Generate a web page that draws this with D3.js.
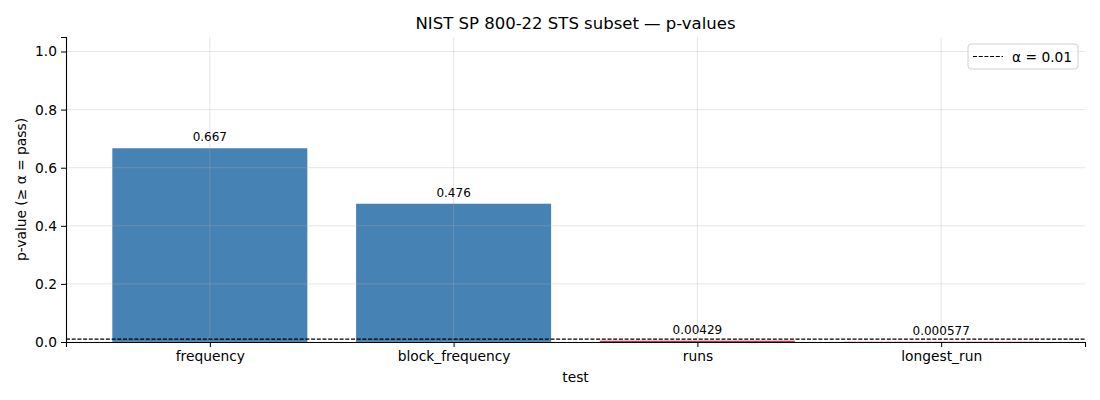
<!DOCTYPE html>
<html>
<head>
<meta charset="utf-8">
<script src="https://cdn.jsdelivr.net/npm/d3@7"></script>
<style>
body { margin: 0; background: #fff; }
text { font-family: "DejaVu Sans", sans-serif; }
</style>
</head>
<body>
<div id="chart"></div>
<script>
var tests = ["frequency", "block_frequency", "runs", "longest_run"];
var pvalues = [0.667, 0.476, 0.00429, 0.000577];
var labels = ["0.667", "0.476", "0.00429", "0.000577"];
var yTicks = [0, 0.2, 0.4, 0.6, 0.8, 1.0];
var alpha = 0.01;

var svgwidth = 1100;
var svgheight = 400;
var margin = {top: 37, bottom: 58, right: 15, left: 66};
var width = svgwidth - margin.left - margin.right;
var height = svgheight - margin.top - margin.bottom;

var svg = d3.select("#chart").append("svg").attr("width", svgwidth).attr("height", svgheight);
var chartGroup = svg.append("g").attr("transform", `translate(${margin.left}, ${margin.top})`);

// matplotlib-like x limits: bars of width 0.8, 5% margins
var xLinear = d3.scaleLinear().domain([-0.59, tests.length - 1 + 0.59]).range([0, width]);
var yLinear = d3.scaleLinear().domain([0, 1.05]).range([height, 0]);
var barW = xLinear(0.8) - xLinear(0);

// bars
chartGroup.selectAll("rect.bar")
    .data(pvalues)
    .enter()
    .append("rect")
    .attr("class", "bar")
    .attr("x", (d, i) => xLinear(i) - barW / 2)
    .attr("width", barW)
    .attr("y", d => yLinear(d))
    .attr("height", d => Math.max(height - yLinear(d), 0.8))
    .style("fill", d => d >= alpha ? "#4682b4" : "crimson");

// grid (drawn above the bars, like the reference)
var grid = chartGroup.append("g").attr("stroke", "#b0b0b0").attr("stroke-opacity", 0.4).attr("stroke-width", 0.8);
grid.selectAll("line.h").data(yTicks).enter().append("line")
    .attr("x1", 0).attr("x2", width)
    .attr("y1", d => yLinear(d)).attr("y2", d => yLinear(d));
grid.selectAll("line.v").data(tests).enter().append("line")
    .attr("y1", 0).attr("y2", height)
    .attr("x1", (d, i) => xLinear(i)).attr("x2", (d, i) => xLinear(i));

// alpha threshold
chartGroup.append("line")
    .attr("x1", 0).attr("x2", width)
    .attr("y1", yLinear(alpha)).attr("y2", yLinear(alpha))
    .attr("stroke", "#000").attr("stroke-width", 1.1)
    .attr("stroke-dasharray", "4,1.7");

// value labels
chartGroup.selectAll("text.val")
    .data(pvalues)
    .enter()
    .append("text")
    .attr("class", "val")
    .attr("x", (d, i) => xLinear(i))
    .attr("y", d => yLinear(d) - 7)
    .attr("text-anchor", "middle")
    .style("font-size", "12px")
    .text((d, i) => labels[i]);

// axes
var bottomAxis = d3.axisBottom(xLinear).tickValues(d3.range(tests.length)).tickFormat(i => tests[i]).tickSizeOuter(0).tickSize(5).tickPadding(4);
var leftAxis = d3.axisLeft(yLinear).tickValues(yTicks).tickFormat(d3.format(".1f")).tickSizeOuter(0).tickSize(5).tickPadding(4);

var gx = chartGroup.append("g").attr("transform", `translate(0, ${height})`).call(bottomAxis);
var gy = chartGroup.append("g").call(leftAxis);
[gx, gy].forEach(function(g) {
    g.select(".domain").attr("stroke", "#000").attr("stroke-width", 1.1);
    g.selectAll(".tick line").attr("stroke", "#000").attr("stroke-width", 1);
    g.selectAll(".tick text").style("font-size", "13.8px").style("font-family", "DejaVu Sans").attr("fill", "#000");
});

// axis titles
svg.append("text")
    .attr("x", margin.left + width / 2).attr("y", 382)
    .attr("text-anchor", "middle").style("font-size", "13.8px")
    .text("test");
svg.append("text")
    .attr("transform", `translate(26, ${margin.top + height / 2}) rotate(-90)`)
    .attr("text-anchor", "middle").style("font-size", "13.8px")
    .text("p-value (≥ α = pass)");

// title
svg.append("text")
    .attr("x", margin.left + width / 2).attr("y", 29)
    .attr("text-anchor", "middle").style("font-size", "16.5px")
    .text("NIST SP 800-22 STS subset — p-values");

// legend
var legend = svg.append("g").attr("transform", "translate(968, 44)");
legend.append("rect")
    .attr("width", 110).attr("height", 25).attr("rx", 3)
    .attr("fill", "#fff").attr("fill-opacity", 0.8)
    .attr("stroke", "#d0d0d0").attr("stroke-width", 1);
legend.append("line")
    .attr("x1", 5).attr("x2", 35).attr("y1", 12.5).attr("y2", 12.5)
    .attr("stroke", "#000").attr("stroke-width", 1.1).attr("stroke-dasharray", "4,1.7");
legend.append("text")
    .attr("x", 44).attr("y", 17.5).style("font-size", "13.8px")
    .text("α = " + alpha);
</script>
</body>
</html>
